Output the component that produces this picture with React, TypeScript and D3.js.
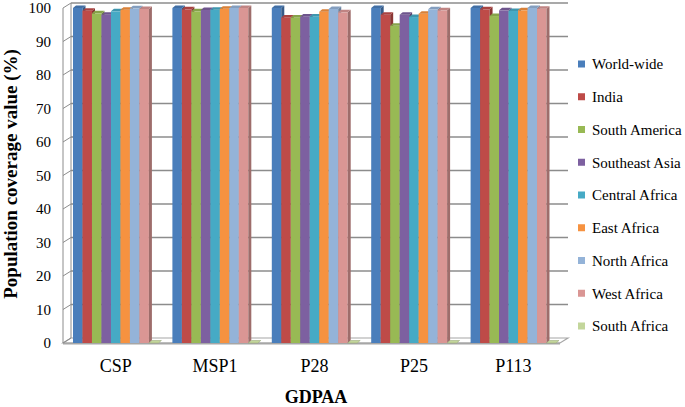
import React from "react";
import * as d3 from "d3";

const categories = ["CSP", "MSP1", "P28", "P25", "P113"];
const seriesNames = [
  "World-wide",
  "India",
  "South America",
  "Southeast Asia",
  "Central Africa",
  "East Africa",
  "North Africa",
  "West Africa",
  "South Africa",
];
const worldWide = [100, 100, 100, 100, 100];
const india = [99.2, 99.6, 97.2, 98.0, 99.6];
const southAmerica = [98.4, 99.0, 97.2, 94.7, 97.6];
const southeastAsia = [98.0, 99.4, 97.5, 98.0, 99.3];
const centralAfrica = [99.0, 99.5, 97.5, 97.3, 99.1];
const eastAfrica = [99.5, 99.8, 98.9, 98.3, 99.3];
const northAfrica = [99.9, 100, 99.7, 99.6, 100];
const westAfrica = [99.7, 100, 98.7, 99.3, 99.8];
const southAfrica = [0, 0, 0, 0, 0];
const yTicks = [0, 10, 20, 30, 40, 50, 60, 70, 80, 90, 100];

const seriesValues = [
  worldWide,
  india,
  southAmerica,
  southeastAsia,
  centralAfrica,
  eastAfrica,
  northAfrica,
  westAfrica,
  southAfrica,
];
const colors = [
  "#4A7EBB",
  "#BE4B48",
  "#98B954",
  "#7D60A0",
  "#46AAC5",
  "#F69240",
  "#94B3D8",
  "#DA9694",
  "#C3D69B",
];

const FONT = "Liberation Serif, Tinos, serif";

export default function App() {
  const W = 685;
  const H = 407;
  const x0 = 63;
  const x1 = 560;
  const yBase = 343;
  const yTop = 8;
  const ddx = 8;
  const ddy = -5;
  const bdx = 3;
  const bdy = -2.5;

  const y = d3.scaleLinear().domain([0, 100]).range([yBase, yTop]);
  const xBand = d3.scaleBand<string>().domain(categories).range([x0, x1]);
  const inner = d3
    .scaleBand<string>()
    .domain(seriesNames)
    .range([10, xBand.bandwidth() - 4])
    .padding(0);
  const bw = inner.bandwidth();
  const grid = "#8C8C8C";

  const bars: JSX.Element[] = [];
  categories.forEach((cat, ci) => {
    seriesNames.forEach((s, si) => {
      const v = seriesValues[si][ci];
      const bx = (xBand(cat) || 0) + (inner(s) || 0);
      const yv = y(v);
      const c = d3.color(colors[si])!;
      const side = c.darker(0.9).toString();
      const top = c.darker(0.35).toString();
      bars.push(
        <g key={cat + s}>
          {v > 0 && (
            <rect x={bx} y={yv} width={bw} height={yBase - yv} fill={colors[si]} />
          )}
          {v > 0 && (
            <polygon
              points={`${bx + bw},${yv} ${bx + bw + bdx},${yv + bdy} ${bx + bw + bdx},${yBase + bdy} ${bx + bw},${yBase}`}
              fill={side}
            />
          )}
          <polygon
            points={`${bx},${yv} ${bx + bw},${yv} ${bx + bw + bdx},${yv + bdy} ${bx + bdx},${yv + bdy}`}
            fill={v > 0 ? top : colors[si]}
            stroke={v > 0 ? "none" : d3.color(colors[si])!.darker(0.6).toString()}
            strokeWidth={0.6}
          />
        </g>
      );
    });
  });

  return (
    <svg width={W} height={H} style={{ position: "absolute", left: 0, top: 0 }}>
      <rect x={0} y={0} width={W} height={H} fill="#fff" />
      <polygon
        points={`${x0},${yBase} ${x1},${yBase} ${x1 + ddx},${yBase + ddy} ${x0 + ddx},${yBase + ddy}`}
        fill="#fff"
        stroke="#A6A6A6"
        strokeWidth={1.2}
      />
      <line x1={x0} y1={yBase + 0.5} x2={x1} y2={yBase + 0.5} stroke="#A6A6A6" strokeWidth={2} />
      {yTicks.map((t) => (
        <g key={t}>
          <line x1={x0} y1={y(t)} x2={x0 + ddx} y2={y(t) + ddy} stroke={grid} strokeWidth={1} />
          {t > 0 && (
            <line x1={x0 + ddx} y1={y(t) + ddy} x2={x1 + ddx} y2={y(t) + ddy} stroke={grid} strokeWidth={1.3} />
          )}
        </g>
      ))}
      <line x1={x0} y1={yBase} x2={x0} y2={yTop} stroke={grid} strokeWidth={1} />
      <line x1={x0 + ddx} y1={yBase + ddy} x2={x0 + ddx} y2={yTop + ddy} stroke={grid} strokeWidth={1} />
      {bars}
      {yTicks.map((t) => (
        <text
          key={t}
          x={51}
          y={y(t)}
          dy="0.35em"
          textAnchor="end"
          style={{ fontFamily: FONT }}
          fontSize={15}
          fill="#000"
        >
          {t}
        </text>
      ))}
      {categories.map((c) => (
        <text
          key={c}
          x={(xBand(c) || 0) + 10 + (bw * 9) / 2}
          y={372}
          textAnchor="middle"
          style={{ fontFamily: FONT }}
          fontSize={18}
          fill="#000"
        >
          {c}
        </text>
      ))}
      <text
        x={316}
        y={403}
        textAnchor="middle"
        style={{ fontFamily: FONT }}
        fontSize={18}
        fontWeight="bold"
        fill="#000"
      >
        GDPAA
      </text>
      <text
        transform={`translate(17,174) rotate(-90)`}
        textAnchor="middle"
        style={{ fontFamily: FONT }}
        fontSize={19}
        fontWeight="bold"
        fill="#000"
      >
        Population coverage value (%)
      </text>
      {seriesNames.map((s, i) => {
        const ly = 64 + i * 32.75;
        return (
          <g key={s}>
            <rect x={578} y={ly - 3.5} width={7} height={7} fill={colors[i]} />
            <text
              x={592}
              y={ly}
              dy="0.35em"
              style={{ fontFamily: FONT }}
              fontSize={15}
              fill="#000"
            >
              {s}
            </text>
          </g>
        );
      })}
    </svg>
  );
}
